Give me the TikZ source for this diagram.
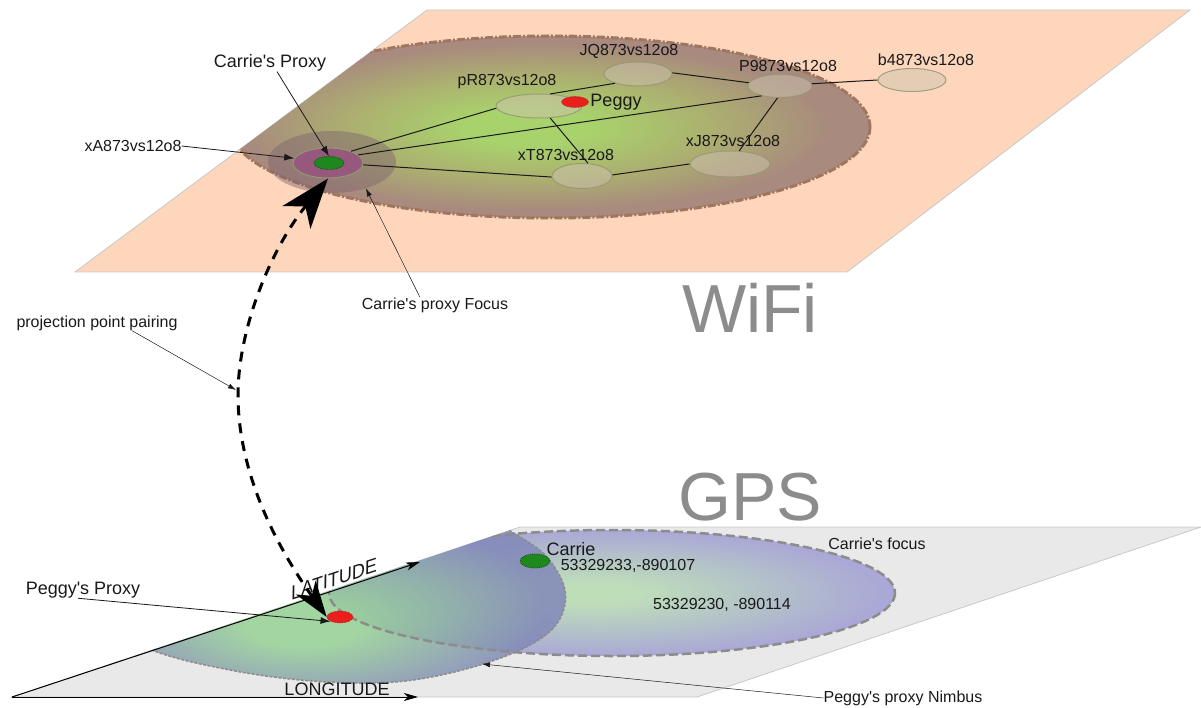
\documentclass[tikz,border=0pt]{standalone}
\usepackage{fontspec}
\setmainfont{Liberation Sans}[Ligatures=TeXOff]
\usetikzlibrary{shapes.geometric,arrows.meta,calc}
\definecolor{peach}{RGB}{253,214,188}
\definecolor{planeedge}{RGB}{200,200,200}
\definecolor{wgreen}{RGB}{168,210,108}
\definecolor{wolive}{RGB}{172,176,112}
\definecolor{wmauve}{RGB}{168,138,126}
\definecolor{wedge}{RGB}{160,118,95}
\definecolor{nodefill}{RGB}{205,195,175}
\definecolor{nodeedge}{RGB}{150,150,115}
\definecolor{focusfill}{RGB}{125,98,110}
\definecolor{xafill}{RGB}{150,88,125}
\definecolor{dotgreen}{RGB}{30,135,30}
\definecolor{dotred}{RGB}{235,30,30}
\definecolor{gplane}{RGB}{233,233,233}
\definecolor{cfgreen}{RGB}{190,222,186}
\definecolor{cflav}{RGB}{170,168,214}
\definecolor{nbgreen}{RGB}{150,210,150}
\definecolor{nbblue}{RGB}{130,136,184}
\definecolor{dashgrey}{RGB}{140,140,140}
\definecolor{titlegrey}{RGB}{140,140,140}
\definecolor{ink}{RGB}{25,25,25}
\pgfdeclareradialshading{wifishade}{\pgfpoint{-2bp}{0bp}}{color(0bp)=(wgreen); color(5bp)=(wgreen); color(14bp)=(wolive); color(23bp)=(wmauve); color(50bp)=(wmauve)}
\pgfdeclareradialshading{cfshade}{\pgfpoint{-2bp}{0bp}}{color(0bp)=(cfgreen); color(4bp)=(cfgreen); color(25bp)=(cflav); color(50bp)=(cflav)}
\pgfdeclareradialshading{nbshade}{\pgfpoint{-3bp}{-11bp}}{color(0bp)=(nbgreen); color(6bp)=(nbgreen); color(24bp)=(nbblue); color(50bp)=(nbblue)}
\tikzset{
  lab/.style={font=\fontsize{16}{18}\selectfont, inner sep=0pt, text=ink},
  biglab/.style={font=\fontsize{18}{20}\selectfont, inner sep=0pt, text=ink},
  wnode/.style={ellipse, draw=nodeedge, draw opacity=0.85, line width=1pt, fill=nodefill, fill opacity=0.5, inner sep=0pt},
  link/.style={line width=1pt, ink},
  pointer/.style={line width=0.8pt, ink, -{Latex[length=10pt,width=7pt]}},
  thinpointer/.style={line width=0.5pt, ink, -{Latex[length=8pt,width=5pt]}},
  title/.style={font=\fontsize{68}{70}\selectfont, text=titlegrey, inner sep=0pt, anchor=base},
  bigdash/.style={line width=3pt, black, dash pattern=on 10pt off 8pt},
  axisarrow/.style={line width=1pt, black, -{Stealth[length=14pt,width=8pt,inset=4pt]}},
}
\begin{document}
\begin{tikzpicture}[x=1pt,y=-1pt]
\useasboundingbox (0,0) rectangle (1201,708);
% ================= WiFi plane
\coordinate (w1) at (75,272); \coordinate (w2) at (427,10);
\coordinate (w3) at (1190,10); \coordinate (w4) at (847,272);
\fill[peach] (w1) -- (w2) -- (w3) -- (w4) -- cycle;
\draw[planeedge, line width=0.8pt] (w1) -- (w2) -- (w3) -- (w4) -- cycle;
\begin{scope}
  \clip (w1) -- (w2) -- (w3) -- (w4) -- cycle;
  \shade[shading=wifishade] (550,127) ellipse (320 and 91);
  \draw[wedge, line width=3pt, dash pattern=on 8pt off 2pt on 2pt off 2pt] (550,127) ellipse (320 and 91);
\end{scope}
% Carrie's proxy focus and proxy
\node[ellipse, fill=focusfill, fill opacity=0.45, minimum width=128pt, minimum height=62pt, inner sep=0pt] (focus) at (332,162) {};
\node[ellipse, fill=xafill, draw=nodeedge, line width=1pt, minimum width=70pt, minimum height=30pt, inner sep=0pt] (xA) at (328,163) {};
\node[ellipse, fill=dotgreen, draw=dotgreen!60!black, densely dotted, line width=0.8pt, minimum width=30pt, minimum height=13pt, inner sep=0pt] (cproxy) at (329,163) {};
% WiFi nodes
\node[wnode, minimum width=86pt, minimum height=24pt] (pR) at (539,106) {};
\node[wnode, minimum width=68pt, minimum height=24pt] (JQ) at (638,74) {};
\node[wnode, minimum width=64pt, minimum height=23pt] (P9) at (780,86) {};
\node[wnode, minimum width=68pt, minimum height=23pt] (b4) at (912,80) {};
\node[wnode, minimum width=60pt, minimum height=25pt] (xT) at (582,176) {};
\node[wnode, minimum width=80pt, minimum height=26pt] (xJ) at (730,164) {};
\node[ellipse, fill=dotred, draw=dotred!70!black, densely dotted, line width=0.6pt, minimum width=27pt, minimum height=11pt, inner sep=0pt] (peggy) at (575,102) {};
% links
\draw[link] (xA.27) -- (pR.183);
\draw[link] (xA.15) -- (P9.208);
\draw[link] (xA.-3) -- (xT.182);
\draw[link] (pR.47) -- (JQ.202);
\draw[link] (JQ.2) -- (P9.174);
\draw[link] (P9.4) -- (b4.180);
\draw[link] (P9.258) -- (xJ.55);
\draw[link] (pR.-47) -- (xT.65);
\draw[link] (xT.2) -- (xJ.180);
% WiFi labels
\node[lab] (lpR) at (507,82) {pR873vs12o8};
\node[lab] (lJQ) at (629,51) {JQ873vs12o8};
\node[lab] (lP9) at (788,66) {P9873vs12o8};
\node[lab] (lb4) at (926,60) {b4873vs12o8};
\node[lab] (lxT) at (566,155) {xT873vs12o8};
\node[lab] (lxJ) at (733,141) {xJ873vs12o8};
\node[biglab] (lpeggy) at (616,102) {Peggy};
\node[biglab] (lcp) at (270,63) {Carrie's Proxy};
\node[lab] (lxa) at (133,146) {xA873vs12o8};
\node[lab] (lfoc) at (435,305) {Carrie's proxy Focus};
\draw[pointer] ($(lcp.south)+(7,0)$) -- (cproxy.north);
\draw[pointer] (lxa.east) -- (xA.172);
\draw[thinpointer] ($(lfoc.north)+(-15,0)$) -- (focus.-38);
% WiFi title
\node[title] (wifi) at (750,332) {WiFi};
% ================= GPS plane
\coordinate (g1) at (12,697); \coordinate (g2) at (520,527);
\coordinate (g3) at (1201,527); \coordinate (g4) at (697,697);
\fill[gplane] (g1) -- (g2) -- (g3) -- (g4) -- cycle;
\draw[planeedge, line width=0.8pt] (g1) -- (g2) -- (g3) -- (g4) -- cycle;
\begin{scope}
  \clip (g1) -- (g2) -- (g3) -- (g4) -- cycle;
  \shade[shading=cfshade] (612,593) ellipse (283 and 63);
  \shade[shading=nbshade, opacity=0.85] plot[smooth cycle, tension=0.6] coordinates {(470,505) (509,530) (545,555) (565,590) (558,622) (530,645) (480,665) (420,679) (367,683) (300,680) (230,670) (157,652) (90,620) (150,540) (300,495)};
  \draw[dashgrey, line width=1.5pt, dash pattern=on 3pt off 1.5pt] plot[smooth cycle, tension=0.6] coordinates {(470,505) (509,530) (545,555) (565,590) (558,622) (530,645) (480,665) (420,679) (367,683) (300,680) (230,670) (157,652) (90,620) (150,540) (300,495)};
  \draw[dashgrey, line width=2.5pt, dash pattern=on 9pt off 4pt] (612,593) ellipse (283 and 63);
\end{scope}
% axes
\coordinate (latend) at (420,562);
\coordinate (lonend) at (418,697);
\draw[axisarrow] (g1) -- (latend);
\draw[axisarrow] (g1) -- (lonend);
\node[lab, font=\fontsize{19}{20}\selectfont, rotate=18.3, xslant=0.35, anchor=base] (llat) at (334,586) {LATITUDE};
\node[lab, font=\fontsize{18}{20}\selectfont] (llon) at (337,689) {LONGITUDE};
% dots
\node[ellipse, fill=dotgreen, draw=dotgreen!60!black, densely dotted, line width=0.8pt, minimum width=30pt, minimum height=14pt, inner sep=0pt] (carrie) at (535,561) {};
\node[ellipse, fill=dotred, draw=dotred!70!black, densely dotted, line width=0.6pt, minimum width=26pt, minimum height=12pt, inner sep=0pt] (gproxy) at (340,617) {};
% GPS labels
\node[biglab] (lcarrie) at (571,549) {Carrie};
\node[lab] (lc1) at (628,566) {53329233,-890107};
\node[lab] (lc2) at (722,605) {53329230, -890114};
\node[lab] (lcf) at (877,544) {Carrie's focus};
\node[biglab] (lpp) at (83,590) {Peggy's Proxy};
\node[lab] (lnim) at (903,698) {Peggy's proxy Nimbus};
\node[lab] (lppp) at (97,323) {projection point pairing};
% GPS title
\node[title] (gps) at (750,520) {GPS};
% projection pairing arrow
\draw[bigdash, {Stealth[length=36pt,width=24pt,inset=10pt]}-{Stealth[length=50pt,width=36pt,inset=14pt]}]
  (gproxy.west) .. controls (265,530) and (238,460) .. (238,395) .. controls (238,330) and (270,250) .. (xA.south);
\coordinate (ppp) at (236,390);
\coordinate (nimb) at (482,664);
\draw[thinpointer] ($(lppp.south)+(35,0)$) -- (ppp);
\draw[pointer] ($(lpp.south)+(-5,0)$) -- (gproxy.205);
\draw[thinpointer] (lnim.west) -- (nimb);
\end{tikzpicture}
\end{document}
